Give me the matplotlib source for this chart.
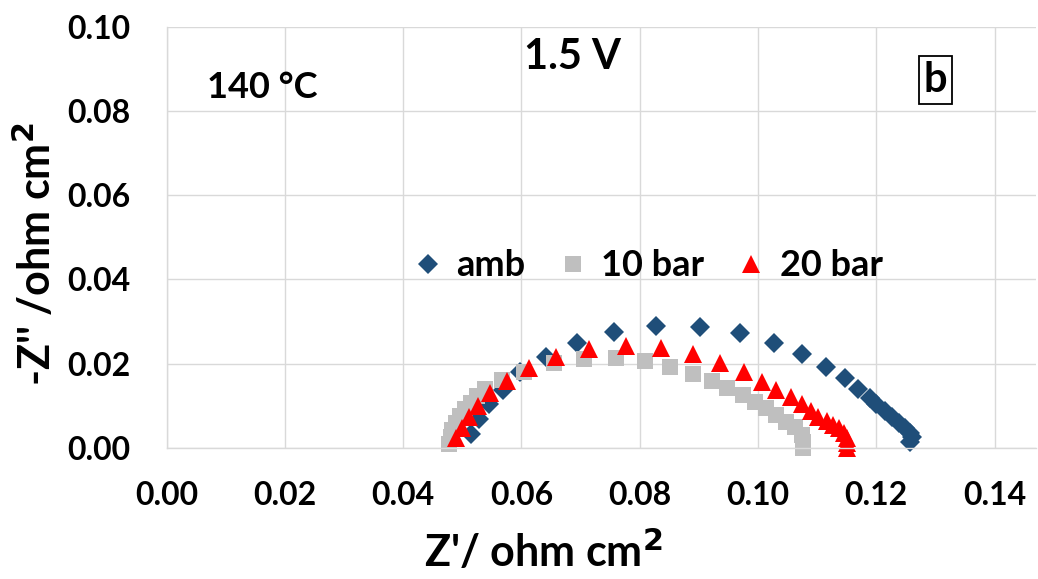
import matplotlib
matplotlib.use("Agg")
import matplotlib.pyplot as plt

plt.rcParams['font.family'] = ['Lato', 'DejaVu Sans']
plt.rcParams['font.weight'] = 'bold'
plt.rcParams['axes.labelweight'] = 'bold'

# impedance spectra at 1.5 V, 140 C: Z' and -Z'' in ohm cm2
amb_x = [0.0515, 0.0528, 0.0545, 0.0569, 0.0597, 0.0641, 0.0694, 0.0757, 0.0828,
         0.0902, 0.0969, 0.1027, 0.1075, 0.1115, 0.1147, 0.1169, 0.1189, 0.1200,
         0.1214, 0.1227, 0.1239, 0.1248, 0.1257, 0.1260, 0.1257]
amb_y = [0.0033, 0.0067, 0.0103, 0.0136, 0.0180, 0.0216, 0.0248, 0.0275, 0.0289,
         0.0288, 0.0273, 0.0248, 0.0222, 0.0192, 0.0165, 0.0140, 0.0117, 0.0104,
         0.0087, 0.0074, 0.0058, 0.0046, 0.0034, 0.0025, 0.0014]

bar10_x = [0.0477, 0.0480, 0.0483, 0.0489, 0.0496, 0.0504, 0.0514, 0.0525, 0.0538,
           0.0567, 0.0604, 0.0655, 0.0706, 0.0760, 0.0809, 0.0852, 0.0890, 0.0922,
           0.0948, 0.0974, 0.0995, 0.1014, 0.1031, 0.1048, 0.1062, 0.1074, 0.1076,
           0.1076]
bar10_y = [0.0009, 0.0025, 0.0042, 0.0059, 0.0075, 0.0092, 0.0106, 0.0123, 0.0140,
           0.0161, 0.0180, 0.0201, 0.0210, 0.0213, 0.0205, 0.0191, 0.0175, 0.0158,
           0.0141, 0.0125, 0.0109, 0.0094, 0.0078, 0.0062, 0.0049, 0.0030, 0.0014,
           0.0000]

bar20_x = [0.0489, 0.0499, 0.0511, 0.0526, 0.0547, 0.0575, 0.0613, 0.0659, 0.0714,
           0.0777, 0.0836, 0.0890, 0.0935, 0.0976, 0.1006, 0.1031, 0.1055, 0.1074,
           0.1089, 0.1102, 0.1116, 0.1127, 0.1137, 0.1145, 0.1150, 0.1150, 0.1150]
bar20_y = [0.0022, 0.0047, 0.0073, 0.0099, 0.0129, 0.0159, 0.0189, 0.0215, 0.0234,
           0.0242, 0.0236, 0.0222, 0.0202, 0.0179, 0.0157, 0.0137, 0.0120, 0.0103,
           0.0087, 0.0074, 0.0064, 0.0054, 0.0046, 0.0034, 0.0022, 0.0010, 0.0000]

x_ticks = [0.00, 0.02, 0.04, 0.06, 0.08, 0.10, 0.12, 0.14]
y_ticks = [0.00, 0.02, 0.04, 0.06, 0.08, 0.10]

fig = plt.figure(figsize=(10.38, 5.79), dpi=100)
ax = fig.add_axes([0.1606, 0.2268, 0.8374, 0.7266])

ax.plot(amb_x, amb_y, 'D', color='#1F4E79', ms=10, mew=0, label='amb', clip_on=False)
ax.plot(bar10_x, bar10_y, 's', color='#BFBFBF', ms=11, mew=0, label='10 bar', clip_on=False)
ax.plot(bar20_x, bar20_y, '^', color='#FF0000', ms=13, mew=0, label='20 bar', clip_on=False)

ax.set_xlim(0, 0.147)
ax.set_ylim(0, 0.10)
ax.set_xticks(x_ticks)
ax.set_yticks(y_ticks)
ax.set_xticklabels(['%.2f' % v for v in x_ticks])
ax.set_yticklabels(['%.2f' % v for v in y_ticks])
ax.tick_params(length=0, labelsize=23)
ax.tick_params(axis='x', pad=24)
ax.tick_params(axis='y', pad=26)
ax.grid(True, color='#D9D9D9', lw=1)
ax.set_axisbelow(True)
for side in ['top', 'right']:
    ax.spines[side].set_visible(False)
for side in ['left', 'bottom']:
    ax.spines[side].set_color('#D9D9D9')
    ax.spines[side].set_linewidth(1)

ax.set_xlabel("Z'/ ohm cm$^\\mathbf{2}$", fontsize=31)
ax.xaxis.set_label_coords(0.433, -0.195)
ax.set_ylabel("-Z'' /ohm cm$^\\mathbf{2}$", fontsize=31)
ax.yaxis.set_label_coords(-0.125, 0.46)

ax.text(0.0161, 0.0855, '140 °C', fontsize=26, ha='center', va='center')
ax.text(0.0686, 0.0929, '1.5 V', fontsize=30, ha='center', va='center')
ax.text(0.1300, 0.0874, 'b', fontsize=30, ha='center', va='center',
        bbox=dict(boxstyle='square,pad=0.12', fc='white', ec='black', lw=1.3))

ax.legend(loc='center', bbox_to_anchor=(0.556, 0.432), ncol=3, frameon=False,
          fontsize=26, handlelength=0.6, handletextpad=0.5, columnspacing=1.0,
          markerscale=1.0)

fig.savefig('out.png', dpi=100)
